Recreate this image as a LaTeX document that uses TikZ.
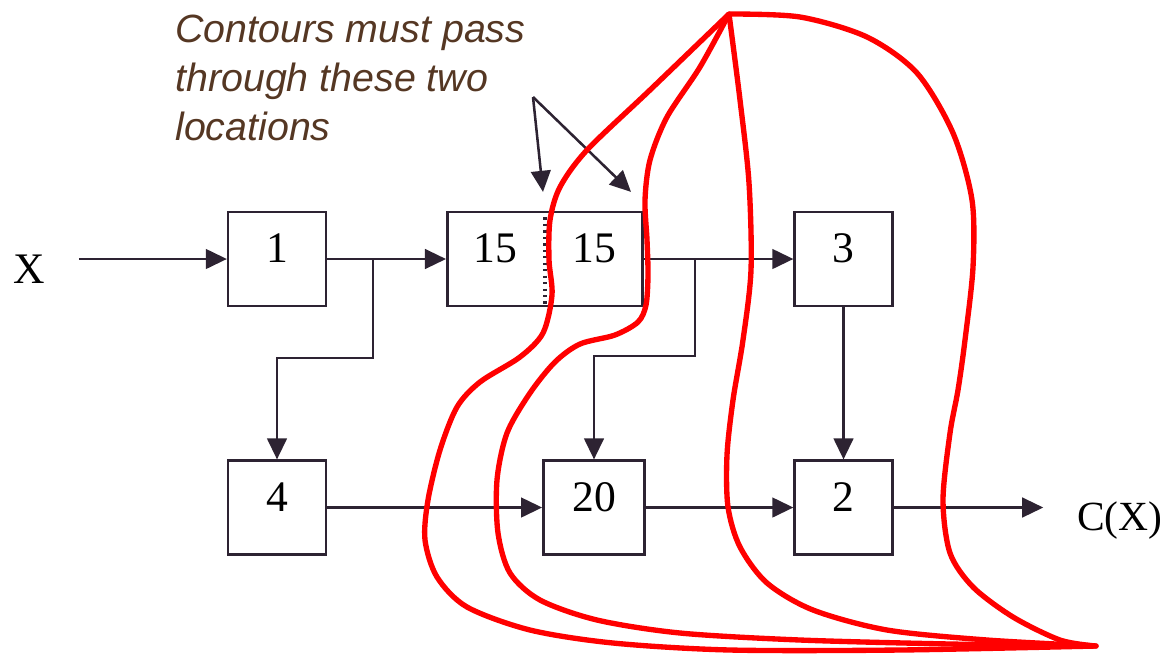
\documentclass[tikz,border=0pt]{standalone}
\usepackage{fontspec}
\setmainfont{Liberation Serif}
\newfontfamily\notefont{Liberation Sans}
\usetikzlibrary{arrows.meta}

\definecolor{wire}{RGB}{45,35,50}
\definecolor{notebrown}{RGB}{85,55,35}
\definecolor{cutred}{RGB}{255,0,0}

\tikzset{
  box/.style={draw=wire, line width=1.8pt, inner sep=0pt, minimum width=69.5pt,
    text height=36.1pt, text depth=30.5pt, font=\fontsize{31}{31}\selectfont},
  num/.style={inner sep=0pt, text height=36.1pt, text depth=30.5pt,
    font=\fontsize{31}{31}\selectfont},
  io/.style={inner sep=0pt, font=\fontsize{31}{31}\selectfont},
  note/.style={inner sep=0pt, align=left, text=notebrown,
    font=\notefont\itshape\fontsize{28}{34.7}\selectfont},
  arr/.style={draw=wire, line width=1.8pt, -{Triangle[length=15pt,width=14pt]}},
  cut/.style={draw=cutred, line width=3.8pt, line join=round}
}

\begin{document}
\begin{tikzpicture}[x=0.025cm,y=-0.025cm]
\useasboundingbox (0,0) rectangle (1175,654);

%boites du haut
\node[box] (b1) at (277,259) {1};
\node[box, minimum width=139pt] (b15) at (545,259) {};
\node[num] (n15a) at (495,259) {15};
\node[num] (n15b) at (594,259) {15};
\node[box] (b3) at (843.5,259) {3};

%boites du bas
\node[box] (b4) at (277,507.5) {4};
\node[box, minimum width=72pt] (b20) at (594,507.5) {20};
\node[box] (b2) at (843.5,507.5) {2};

%entree et sortie
\node[io, anchor=base west] (lx) at (13,283) {X};
\node[io, anchor=base west, font=\fontsize{29.5}{29.5}\selectfont] (cx) at (1077,530) {C(X)};

%liaisons
\draw[arr, shorten <=24pt] (lx.east |- b1.west) -- (b1.west);
\draw[arr] (b1.east) -- (b15.west);
\coordinate (j1) at (373,259);
\draw[arr] (j1) -- ++(0,99) -| (b4.north);
\draw[arr] (b15.east) -- (b3.west);
\coordinate (j2) at (695,259);
\draw[arr] (j2) -- ++(0,97) -| (b20.north);
\draw[arr] (b3.south) -- (b2.north);
\draw[arr] (b4.east) -- (b20.west);
\draw[arr] (b20.east) -- (b2.west);
\draw[arr, shorten >=24pt] (b2.east) -- (cx.west |- b2.east);

%separation pointillee
\draw[draw=wire, line width=2.2pt, dash pattern=on 1.6pt off 3pt] (b15.north) -- (b15.south);

%note
\node[note, anchor=base west] (note) at (175,140) {Contours must pass\\through these two\\locations};
\coordinate (fork) at (533,97);
\draw[arr] (fork) -- ([shift={(-2,-19)}]b15.north);
\draw[arr] (fork) -- ([shift={(-13,-19)}]b15.north east);

%contours
\coordinate (apex) at (729,14);
\coordinate (tip) at (1096,646);
\draw[cut] plot[smooth] coordinates {(apex) (650,90) (587,150) (560,187) (550,220)
  (549,260) (552,295) (543,333) (520,357) (480,382) (457,407) (440,450) (428,500)
  (425,540) (437,577) (467,607) (530,630) (613,643) (730,650) (900,650) (tip)}
  -- plot[smooth] coordinates {(tip) (987,640) (887,630) (813,610) (767,583)
  (740,547) (728,507) (727,455) (733,400) (743,340) (751,270) (749,183) (740,100) (apex)}
  -- cycle;
\draw[cut] plot[smooth] coordinates {(apex) (700,67) (667,117) (650,160) (645,200)
  (647,240) (648,275) (646,305) (638,322) (615,335) (580,344) (555,362) (530,393)
  (507,433) (497,480) (498,533) (510,573) (540,600) (597,620) (680,633) (800,640)
  (950,644) (tip)}
  -- plot[smooth] coordinates {(tip) (1060,640) (1013,617) (973,587) (950,553)
  (943,500) (950,433) (958,390) (965,340) (973,267) (972,200) (953,133) (917,73)
  (867,37) (800,17) (apex)}
  -- cycle;

\end{tikzpicture}
\end{document}
